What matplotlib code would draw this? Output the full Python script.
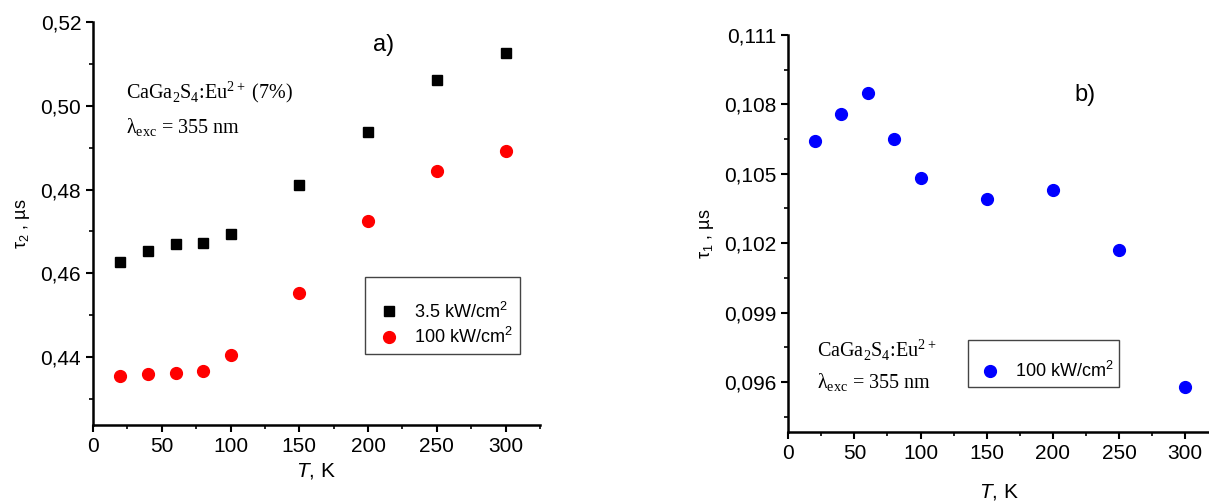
import matplotlib.pyplot as plt
from matplotlib.ticker import MultipleLocator, FuncFormatter

plt.rcParams['font.family'] = ['Liberation Sans', 'DejaVu Sans']
plt.rcParams['mathtext.fontset'] = 'custom'
plt.rcParams['mathtext.rm'] = 'Liberation Serif'
plt.rcParams['mathtext.sf'] = 'Liberation Sans'
plt.rcParams['mathtext.it'] = 'Liberation Sans:italic'

# temperatures, K
temp = [20, 40, 60, 80, 100, 150, 200, 250, 300]

# panel a) tau_2, us
tau2_low = [0.4627, 0.4652, 0.4669, 0.4673, 0.4693, 0.4810, 0.4938, 0.5062, 0.5126]
tau2_high = [0.4355, 0.4360, 0.4363, 0.4367, 0.4406, 0.4553, 0.4725, 0.4845, 0.4891]

# panel b) tau_1, us
tau1_high = [0.1064, 0.1076, 0.1085, 0.1065, 0.1048, 0.1039, 0.1043, 0.1017, 0.0958]

labels = ['3.5 kW/cm$^\\mathsf{2}$', '100 kW/cm$^\\mathsf{2}$']
sample_a = 'CaGa$_\\mathrm{2}$S$_\\mathrm{4}$:Eu$^\\mathrm{2+}$ (7%)'
sample_b = 'CaGa$_\\mathrm{2}$S$_\\mathrm{4}$:Eu$^\\mathrm{2+}$'
excit = 'λ$_\\mathrm{exc}$ = 355 nm'


def style_axes(ax, ydigits, xpad):
    for side in ['top', 'right']:
        ax.spines[side].set_visible(False)
    for side in ['left', 'bottom']:
        ax.spines[side].set_linewidth(1.8)
    ax.tick_params(which='major', direction='out', length=5, width=1.5, labelsize=15)
    ax.tick_params(which='minor', direction='out', length=3, width=1.2)
    ax.xaxis.set_major_locator(MultipleLocator(50))
    ax.xaxis.set_minor_locator(MultipleLocator(25))
    fmt = '%.' + str(ydigits) + 'f'
    ax.yaxis.set_major_formatter(FuncFormatter(lambda v, p: (fmt % v).replace('.', ',')))
    ax.set_xlabel('$\\mathit{T}$, K', fontsize=15, labelpad=xpad)


fig = plt.figure(figsize=(12.09, 5.01), dpi=100)

# ---- panel a
ax1 = fig.add_axes([0.0769, 0.152, 0.3698, 0.804])
ax1.plot(temp, tau2_low, 's', color='black', ms=7.5, label=labels[0])
ax1.plot(temp, tau2_high, 'o', color='red', ms=8.5, mec='red', label=labels[1])
ax1.set_xlim(0, 325)
ax1.set_ylim(0.4238, 0.52)
ax1.yaxis.set_major_locator(MultipleLocator(0.02))
ax1.yaxis.set_minor_locator(MultipleLocator(0.01))
style_axes(ax1, 2, 4)
ax1.set_ylabel('τ$_\\mathsf{2}$ , µs', fontsize=13, labelpad=6)
ax1.text(211, 0.5145, 'a)', fontsize=17, ha='center', va='center')
ax1.text(24, 0.5033, sample_a, fontsize=14.5, family='Liberation Serif', va='center')
ax1.text(24, 0.4947, excit, fontsize=14.5, family='Liberation Serif', va='center')
leg1 = ax1.legend(loc='upper left', bbox_to_anchor=(0.609, 0.367), fancybox=False,
                  edgecolor='#444444', framealpha=1, fontsize=13, title=' ',
                  title_fontsize=9, handlelength=1.8, handletextpad=0.5,
                  borderpad=0.4, labelspacing=0.3, borderaxespad=0)
leg1.get_frame().set_linewidth(1.0)

# ---- panel b
ax2 = fig.add_axes([0.652, 0.138, 0.348, 0.792])
ax2.plot(temp, tau1_high, 'o', color='blue', ms=8.5, mec='blue', label=labels[1])
ax2.set_xlim(0, 318)
ax2.set_ylim(0.09384, 0.111)
ax2.yaxis.set_major_locator(MultipleLocator(0.003))
ax2.yaxis.set_minor_locator(MultipleLocator(0.0015))
style_axes(ax2, 3, 14)
ax2.set_ylabel('τ$_\\mathsf{1}$ , µs', fontsize=13, labelpad=6)
ax2.text(224, 0.1084, 'b)', fontsize=17, ha='center', va='center')
ax2.text(22, 0.09738, sample_b, fontsize=14.5, family='Liberation Serif', va='center')
ax2.text(22, 0.09596, excit, fontsize=14.5, family='Liberation Serif', va='center')
leg2 = ax2.legend(loc='upper left', bbox_to_anchor=(0.428, 0.232), fancybox=False,
                  edgecolor='#444444', framealpha=1, fontsize=13, title=' ',
                  title_fontsize=6, handlelength=1.8, handletextpad=0.5,
                  borderpad=0.3, borderaxespad=0)
leg2.get_frame().set_linewidth(1.0)

fig.savefig('out.png', dpi=100)
